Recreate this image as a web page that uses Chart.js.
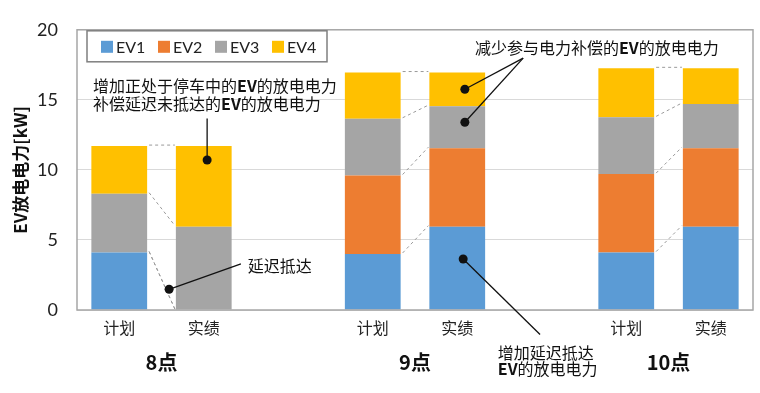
<!DOCTYPE html>
<html lang="zh">
<head>
<meta charset="utf-8">
<title>EV放电电力</title>
<script src="https://cdn.jsdelivr.net/npm/chart.js@4.4.0/dist/chart.umd.min.js"></script>
<style>
  html, body { margin: 0; background: #fff; }
  #wrap { width: 760px; height: 393px; }
</style>
</head>
<body>
<div id="wrap"><canvas id="chart"></canvas></div>
<script>
/* ===== 数据 ===== */
const categories = ["计划", "实绩", "", "计划", "实绩", "", "计划", "实绩"];
const groups = ["8点", "9点", "10点"];
const groupPairs = [[0, 1], [3, 4], [6, 7]];
const seriesNames = ["EV1", "EV2", "EV3", "EV4"];
const ev1 = [4.1, 0, null, 4.0, 5.95, null, 4.1, 5.95];
const ev2 = [0, 0, null, 5.6, 5.6, null, 5.6, 5.6];
const ev3 = [4.2, 5.95, null, 4.05, 3.0, null, 4.05, 3.15];
const ev4 = [3.4, 5.75, null, 3.3, 2.4, null, 3.5, 2.55];
const yTicks = [0, 5, 10, 15, 20];

/* 注释：x = 类别序号（可带小数，文字左端），y = 数值 */
const notes = [
  { lines: ["增加正处于停车中的EV的放电电力", "补偿延迟未抵达的EV的放电电力"], at: [-0.31, 15.96], gap: 1.28,
    leaders: [{ from: [1.04, 13.67], to: [1.04, 10.71] }] },
  { lines: ["减少参与电力补偿的EV的放电电力"], at: [4.21, 18.72], gap: 0,
    leaders: [{ from: [4.78, 17.98], to: [4.09, 15.76] }, { from: [4.78, 17.98], to: [4.09, 13.40] }] },
  { lines: ["延迟抵达"], at: [1.52, 3.16], gap: 0,
    leaders: [{ from: [1.44, 3.30], to: [0.59, 1.48] }] },
  { lines: ["增加延迟抵达", "EV的放电电力"], at: [4.48, -3.03], gap: 1.21,
    leaders: [{ from: [4.98, -1.75], to: [4.07, 3.64] }] }
];

const COLORS = ["#5B9BD5", "#ED7D31", "#A5A5A5", "#FFC000"];
const FONT = "Lato, 'Noto Sans CJK SC', sans-serif";
const CJK = "'Noto Sans CJK SC', Lato, sans-serif";

/* ---------- 文字（EV 加粗，左对齐） ---------- */
function drawRich(ctx, str, x0, cy, size) {
  const parts = str.split(/(EV)/).filter(Boolean);
  const fontOf = p => (p === "EV" ? "bold " : "") + size + "px " + CJK;
  let x = x0;
  ctx.textAlign = "left"; ctx.textBaseline = "middle";
  parts.forEach(p => { ctx.font = fontOf(p); ctx.fillText(p, x, cy); x += ctx.measureText(p).width; });
}

/* ---------- 插件：边框、连接虚线、图例、分组标签、注释 ---------- */
const extras = {
  id: "extras",
  afterDatasetsDraw(chart) {
    const { ctx, chartArea: a, scales: { x, y } } = chart;
    const ds = chart.data.datasets;
    ctx.save();

    // 系列连接虚线
    ctx.strokeStyle = "#9a9a9a"; ctx.lineWidth = 1; ctx.setLineDash([3, 3]);
    groupPairs.forEach(([i, j]) => {
      let ci = 0, cj = 0;
      ds.forEach((d, k) => {
        ci += d.data[i] || 0; cj += d.data[j] || 0;
        const bi = chart.getDatasetMeta(k).data[i], bj = chart.getDatasetMeta(k).data[j];
        ctx.beginPath();
        ctx.moveTo(bi.x + bi.width / 2 + 2, y.getPixelForValue(ci) - 1);
        ctx.lineTo(bj.x - bj.width / 2 - 1, y.getPixelForValue(cj) - 1);
        ctx.stroke();
      });
    });
    ctx.setLineDash([]);

    // 绘图区边框
    ctx.strokeStyle = "#a6a6a6"; ctx.lineWidth = 1.5;
    ctx.strokeRect(a.left, a.top, a.right - a.left, a.bottom - a.top);

    // 图例
    const lx = a.left + 10, ly = a.top + 1;
    ctx.fillStyle = "#fff"; ctx.fillRect(lx, ly, 240, 31);
    ctx.strokeStyle = "#7f7f7f"; ctx.lineWidth = 1.5; ctx.strokeRect(lx, ly, 240, 31);
    ctx.font = "16px " + FONT; ctx.textAlign = "left"; ctx.textBaseline = "middle";
    ds.forEach((d, k) => {
      const sx = lx + 14 + k * 57;
      ctx.fillStyle = d.backgroundColor; ctx.fillRect(sx, ly + 10, 12, 12);
      ctx.fillStyle = "#222"; ctx.fillText(d.label, sx + 15, ly + 17);
    });

    // 分组标签
    ctx.font = "bold 20px " + CJK; ctx.textAlign = "center"; ctx.fillStyle = "#111";
    groupPairs.forEach(([i, j], g) => {
      const cx = (x.getPixelForValue(i) + x.getPixelForValue(j)) / 2;
      ctx.fillText(groups[g], cx, a.bottom + 52);
    });

    // 注释
    ctx.fillStyle = "#111";
    notes.forEach(n => {
      n.lines.forEach((t, li) => drawRich(ctx, t, x.getPixelForValue(n.at[0]), y.getPixelForValue(n.at[1] - li * n.gap), 16));
      n.leaders.forEach(l => {
        const [fx, fy] = [x.getPixelForValue(l.from[0]), y.getPixelForValue(l.from[1])];
        const [tx, ty] = [x.getPixelForValue(l.to[0]), y.getPixelForValue(l.to[1])];
        ctx.strokeStyle = "#111"; ctx.lineWidth = 1.3;
        ctx.beginPath(); ctx.moveTo(fx, fy); ctx.lineTo(tx, ty); ctx.stroke();
        ctx.beginPath(); ctx.arc(tx, ty, 4.5, 0, Math.PI * 2); ctx.fill();
      });
    });
    ctx.restore();
  }
};

/* ---------- 图表 ---------- */
const values = [ev1, ev2, ev3, ev4];
new Chart(document.getElementById("chart"), {
  type: "bar",
  data: {
    labels: categories,
    datasets: seriesNames.map((name, k) => ({
      label: name, data: values[k], backgroundColor: COLORS[k],
      barPercentage: 0.66, categoryPercentage: 1
    }))
  },
  options: {
    responsive: true, maintainAspectRatio: false, animation: false,
    layout: { padding: { top: 13, right: 7, left: 0, bottom: 0 } },
    plugins: { legend: { display: false }, tooltip: { enabled: false } },
    scales: {
      x: {
        stacked: true,
        grid: { display: false, drawTicks: false },
        border: { display: false },
        ticks: { color: "#222", font: { size: 16, family: CJK }, padding: 8, maxRotation: 0, autoSkip: false },
        afterFit: s => { s.height = 83; }
      },
      y: {
        stacked: true, min: 0, max: 20,
        afterBuildTicks: s => { s.ticks = yTicks.map(v => ({ value: v })); },
        grid: { color: "#d9d9d9", drawTicks: false },
        border: { display: false },
        ticks: { color: "#222", font: { size: 18, family: FONT }, padding: 19 },
        title: { display: true, text: "EV放电电力[kW]", color: "#111", padding: { top: 10 },
                 font: { size: 17, weight: "bold", family: CJK } },
        afterFit: s => { s.width = 77; }
      }
    }
  },
  plugins: [extras]
});
</script>
</body>
</html>
